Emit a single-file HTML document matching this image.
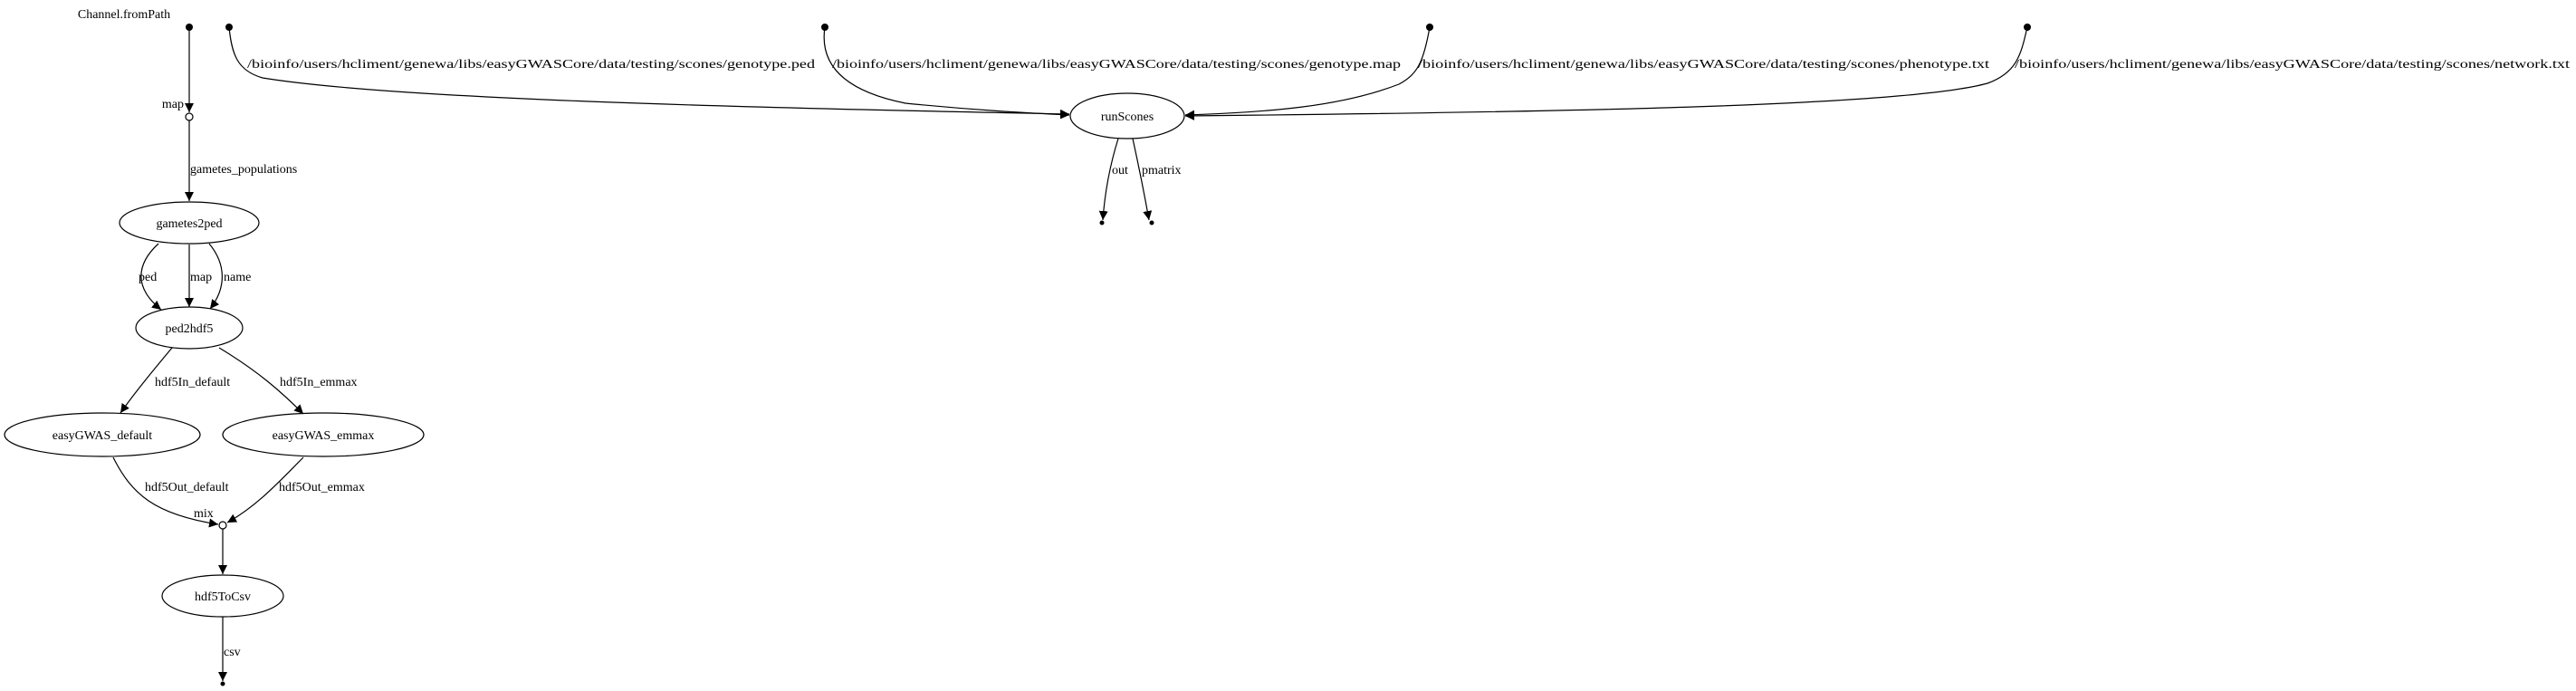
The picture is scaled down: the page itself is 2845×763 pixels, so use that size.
<!DOCTYPE html>
<html><head><meta charset="utf-8"><style>
html,body{margin:0;padding:0;background:#fff;}
svg{display:block;}
text{font-family:"Liberation Serif",serif;font-size:14px;fill:#000;}
</style></head><body>
<svg width="2845" height="763" viewBox="0 0 2845 763" xmlns="http://www.w3.org/2000/svg">
<defs>
<marker id="a" viewBox="0 0 10 10" refX="10" refY="5" markerWidth="10" markerHeight="10" markerUnits="userSpaceOnUse" orient="auto">
<path d="M0,0 L10,5 L0,10 z" fill="#000"/></marker>
</defs>
<g fill="none" stroke="#000" stroke-width="1.2">
<!-- left chain -->
<line x1="209" y1="30" x2="209" y2="124" marker-end="url(#a)"/>
<line x1="209" y1="133" x2="209" y2="222" marker-end="url(#a)"/>
<ellipse cx="209" cy="246" rx="77" ry="23"/>
<path d="M175,269 C150,292 148,318 178,342" marker-end="url(#a)"/>
<line x1="209" y1="270" x2="209" y2="339" marker-end="url(#a)"/>
<path d="M231,269 C250,292 250,318 232,341" marker-end="url(#a)"/>
<ellipse cx="209" cy="362" rx="59" ry="23"/>
<path d="M190,384 C170,408 150,432 133,456" marker-end="url(#a)"/>
<path d="M242,384 C285,410 310,432 335,457" marker-end="url(#a)"/>
<ellipse cx="113" cy="480" rx="108" ry="24"/>
<ellipse cx="357" cy="480" rx="111" ry="24"/>
<path d="M125,505 C145,545 170,568 241,579" marker-end="url(#a)"/>
<path d="M335,505 C310,530 285,558 251,577" marker-end="url(#a)"/>
<line x1="246" y1="584" x2="246" y2="634" marker-end="url(#a)"/>
<ellipse cx="246" cy="658" rx="67" ry="23"/>
<line x1="246" y1="681" x2="246" y2="752" marker-end="url(#a)"/>
<!-- runScones -->
<ellipse cx="1245" cy="128" rx="63" ry="25"/>
<path d="M253,30 C256,60 262,78 290,86 C450,112 900,120 1181,126" marker-end="url(#a)"/>
<path d="M911,30 C905,70 930,100 1000,114 C1080,122 1140,125 1181,127" marker-end="url(#a)"/>
<path d="M1579,30 C1572,70 1565,82 1545,93 C1480,118 1400,124 1309,127" marker-end="url(#a)"/>
<path d="M2239,30 C2232,60 2228,80 2195,92 C2100,118 1700,124 1309,128" marker-end="url(#a)"/>
<path d="M1235,153 C1225,185 1220,215 1218,243" marker-end="url(#a)"/>
<path d="M1251,153 C1258,185 1264,215 1269,243" marker-end="url(#a)"/>
</g>
<g fill="#000">
<circle cx="209" cy="30" r="4"/><circle cx="253" cy="30" r="4"/>
<circle cx="911" cy="30" r="4"/><circle cx="1579" cy="30" r="4"/><circle cx="2239" cy="30" r="4"/>
<circle cx="246" cy="755" r="2.5"/><circle cx="1217" cy="246" r="2.5"/><circle cx="1272" cy="246" r="2.5"/>
</g>
<circle cx="209" cy="129" r="4" fill="#fff" stroke="#000" stroke-width="1.2"/>
<circle cx="246" cy="580" r="4" fill="#fff" stroke="#000" stroke-width="1.2"/>
<text x="137" y="20" text-anchor="middle">Channel.fromPath</text>
<text x="203" y="119" text-anchor="end">map</text>
<text x="210" y="191">gametes_populations</text>
<text x="209" y="251" text-anchor="middle">gametes2ped</text>
<text x="153" y="310">ped</text>
<text x="210" y="310">map</text>
<text x="247" y="310">name</text>
<text x="209" y="367" text-anchor="middle">ped2hdf5</text>
<text x="171" y="426">hdf5In_default</text>
<text x="309" y="426">hdf5In_emmax</text>
<text x="113" y="485" text-anchor="middle">easyGWAS_default</text>
<text x="357" y="485" text-anchor="middle">easyGWAS_emmax</text>
<text x="160" y="542">hdf5Out_default</text>
<text x="308" y="542">hdf5Out_emmax</text>
<text x="214" y="571">mix</text>
<text x="246" y="663" text-anchor="middle">hdf5ToCsv</text>
<text x="247" y="724">csv</text>
<text x="1245" y="133" text-anchor="middle">runScones</text>
<text x="1228" y="192">out</text>
<text x="1261" y="192">pmatrix</text>
<text x="273" y="75" textLength="627" lengthAdjust="spacingAndGlyphs">/bioinfo/users/hcliment/genewa/libs/easyGWASCore/data/testing/scones/genotype.ped</text>
<text x="919" y="75" textLength="628" lengthAdjust="spacingAndGlyphs">/bioinfo/users/hcliment/genewa/libs/easyGWASCore/data/testing/scones/genotype.map</text>
<text x="1566" y="75" textLength="631" lengthAdjust="spacingAndGlyphs">/bioinfo/users/hcliment/genewa/libs/easyGWASCore/data/testing/scones/phenotype.txt</text>
<text x="2225" y="75" textLength="613" lengthAdjust="spacingAndGlyphs">/bioinfo/users/hcliment/genewa/libs/easyGWASCore/data/testing/scones/network.txt</text>
</svg>
</body></html>
